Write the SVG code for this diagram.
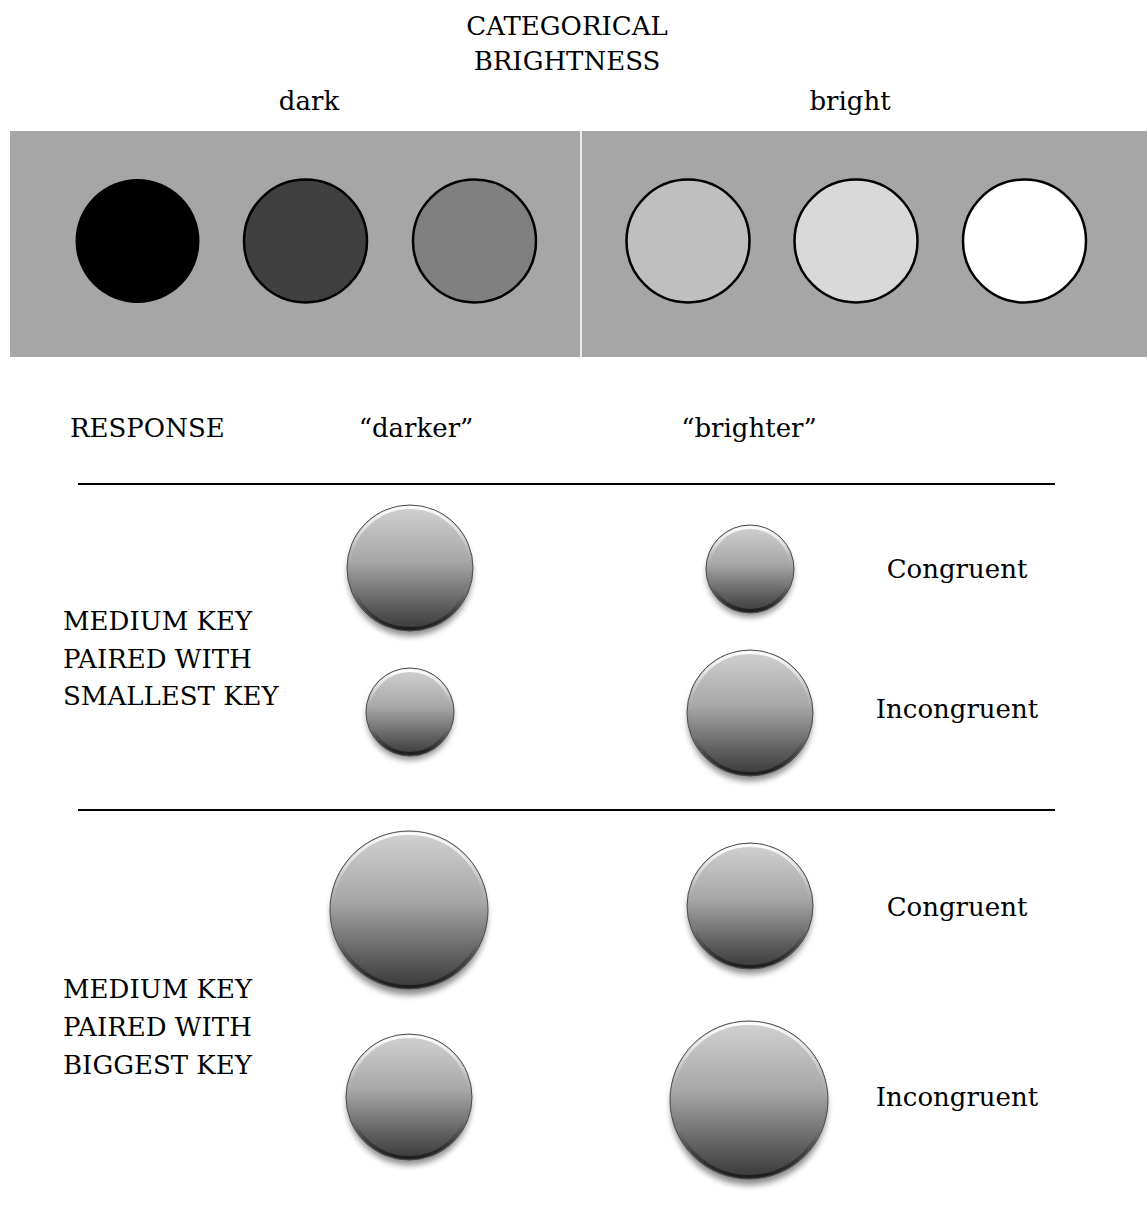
<svg xmlns="http://www.w3.org/2000/svg" width="1147" height="1208" viewBox="0 0 1147 1208">
<style>
text{font-family:"DejaVu Serif","Liberation Serif",serif;font-size:26px;fill:#000}
.mid{text-anchor:middle}
.swatch{stroke:#000;stroke-width:2.5}
.rule{stroke:#000;stroke-width:2}
.key{fill:url(#keyGrad);stroke:#4a4a4a;stroke-width:1}
.rim{fill:none;stroke:url(#rimGrad);stroke-width:3}
.shadow{fill:#000;opacity:0.45;filter:url(#blur)}
</style>
<defs>
<linearGradient id="keyGrad" x1="0" y1="0" x2="0" y2="1">
<stop offset="0" stop-color="#d2d2d2"/>
<stop offset="0.45" stop-color="#a6a6a6"/>
<stop offset="0.8" stop-color="#5e5e5e"/>
<stop offset="1" stop-color="#383838"/>
</linearGradient>
<linearGradient id="rimGrad" x1="0" y1="0" x2="0" y2="1">
<stop offset="0" stop-color="#ffffff" stop-opacity="0.95"/>
<stop offset="0.35" stop-color="#ffffff" stop-opacity="0.1"/>
<stop offset="0.7" stop-color="#000000" stop-opacity="0"/>
<stop offset="1" stop-color="#000000" stop-opacity="0.5"/>
</linearGradient>
<filter id="blur" x="-30%" y="-30%" width="160%" height="160%"><feGaussianBlur stdDeviation="3"/></filter>
</defs>

<g id="title">
<text class="mid" x="567" y="35">CATEGORICAL</text>
<text class="mid" x="567" y="70">BRIGHTNESS</text>
<text class="mid" x="309" y="110">dark</text>
<text class="mid" x="850" y="110">bright</text>
</g>

<g id="brightness-panel">
<rect x="10" y="131" width="1137" height="226" fill="#a6a6a6"/>
<line x1="581" y1="131" x2="581" y2="357" stroke="#ececec" stroke-width="2"/>
<circle cx="137.5" cy="241" r="62" fill="#000"/>
<circle class="swatch" cx="305.5" cy="241" r="61.5" fill="#404040"/>
<circle class="swatch" cx="474.5" cy="241" r="61.5" fill="#808080"/>
<circle class="swatch" cx="688" cy="241" r="61.5" fill="#bfbfbf"/>
<circle class="swatch" cx="856" cy="241" r="61.5" fill="#d9d9d9"/>
<circle class="swatch" cx="1024.5" cy="241" r="61.5" fill="#ffffff"/>
</g>

<g id="response-header">
<text x="70" y="437">RESPONSE</text>
<text class="mid" x="416" y="437">“darker”</text>
<text class="mid" x="749" y="437">“brighter”</text>
</g>

<g id="dividers">
<line class="rule" x1="78" y1="484" x2="1055" y2="484"/>
<line class="rule" x1="78" y1="810" x2="1055" y2="810"/>
</g>

<g id="label-smallest">
<text x="63" y="630">MEDIUM KEY</text>
<text x="63" y="668">PAIRED WITH</text>
<text x="63" y="705">SMALLEST KEY</text>
</g>
<g id="label-biggest">
<text x="63" y="998">MEDIUM KEY</text>
<text x="63" y="1036">PAIRED WITH</text>
<text x="63" y="1074">BIGGEST KEY</text>
</g>

<g id="conditions">
<text class="mid" x="957" y="578">Congruent</text>
<text class="mid" x="957" y="718">Incongruent</text>
<text class="mid" x="957" y="916">Congruent</text>
<text class="mid" x="957" y="1106">Incongruent</text>
</g>

<g id="key-1">
<circle class="shadow" cx="410" cy="574" r="62"/>
<circle class="key" cx="410" cy="568" r="63"/>
<circle class="rim" cx="410" cy="568" r="60.5"/>
</g>
<g id="key-2">
<circle class="shadow" cx="750" cy="574" r="43"/>
<circle class="key" cx="750" cy="569" r="44"/>
<circle class="rim" cx="750" cy="569" r="41.5"/>
</g>
<g id="key-3">
<circle class="shadow" cx="410" cy="717" r="43"/>
<circle class="key" cx="410" cy="712" r="44"/>
<circle class="rim" cx="410" cy="712" r="41.5"/>
</g>
<g id="key-4">
<circle class="shadow" cx="750" cy="719" r="62"/>
<circle class="key" cx="750" cy="713" r="63"/>
<circle class="rim" cx="750" cy="713" r="60.5"/>
</g>
<g id="key-5">
<circle class="shadow" cx="409" cy="917" r="78"/>
<circle class="key" cx="409" cy="910" r="79"/>
<circle class="rim" cx="409" cy="910" r="76.5"/>
</g>
<g id="key-6">
<circle class="shadow" cx="750" cy="912" r="62"/>
<circle class="key" cx="750" cy="906" r="63"/>
<circle class="rim" cx="750" cy="906" r="60.5"/>
</g>
<g id="key-7">
<circle class="shadow" cx="409" cy="1103" r="62"/>
<circle class="key" cx="409" cy="1097" r="63"/>
<circle class="rim" cx="409" cy="1097" r="60.5"/>
</g>
<g id="key-8">
<circle class="shadow" cx="749" cy="1107" r="78"/>
<circle class="key" cx="749" cy="1100" r="79"/>
<circle class="rim" cx="749" cy="1100" r="76.5"/>
</g>
</svg>
